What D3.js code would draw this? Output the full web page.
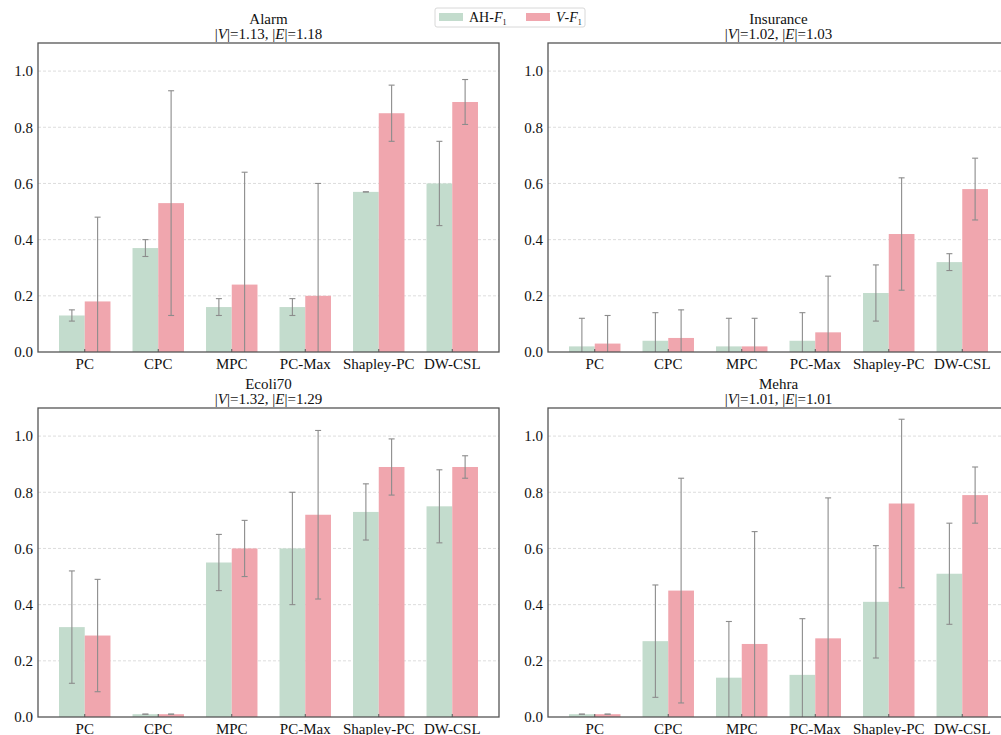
<!DOCTYPE html>
<html>
<head>
<meta charset="utf-8">
<script src="https://cdn.jsdelivr.net/npm/d3@7"></script>
<style>
  html, body { margin: 0; padding: 0; background: #fff; }
  svg, svg text { font-family: "Liberation Serif", "Times New Roman", serif !important; }
  svg { display: block; }
</style>
</head>
<body>
<svg id="chart" width="1001" height="735"></svg>
<script>
// Methods compared on every dataset
const methods = ["PC", "CPC", "MPC", "PC-Max", "Shapley-PC", "DW-CSL"];
const seriesNames = ["AH", "V"];

// Dataset names and graph-size ratios shown in each title
const datasets = ["Alarm", "Insurance", "Ecoli70", "Mehra"];
const ratioV = ["1.13", "1.02", "1.32", "1.01"];
const ratioE = ["1.18", "1.03", "1.29", "1.01"];

// AH-F1 means and error half-widths per dataset
const ahAlarm     = [0.13, 0.37, 0.16, 0.16, 0.57, 0.60];
const ahAlarmErr  = [0.02, 0.03, 0.03, 0.03, 0.00, 0.15];
const ahIns       = [0.02, 0.04, 0.02, 0.04, 0.21, 0.32];
const ahInsErr    = [0.10, 0.10, 0.10, 0.10, 0.10, 0.03];
const ahEcoli     = [0.32, 0.01, 0.55, 0.60, 0.73, 0.75];
const ahEcoliErr  = [0.20, 0.00, 0.10, 0.20, 0.10, 0.13];
const ahMehra     = [0.01, 0.27, 0.14, 0.15, 0.41, 0.51];
const ahMehraErr  = [0.00, 0.20, 0.20, 0.20, 0.20, 0.18];

// V-F1 means and error half-widths per dataset
const vAlarm      = [0.18, 0.53, 0.24, 0.20, 0.85, 0.89];
const vAlarmErr   = [0.30, 0.40, 0.40, 0.40, 0.10, 0.08];
const vIns        = [0.03, 0.05, 0.02, 0.07, 0.42, 0.58];
const vInsErr     = [0.10, 0.10, 0.10, 0.20, 0.20, 0.11];
const vEcoli      = [0.29, 0.01, 0.60, 0.72, 0.89, 0.89];
const vEcoliErr   = [0.20, 0.00, 0.10, 0.30, 0.10, 0.04];
const vMehra      = [0.01, 0.45, 0.26, 0.28, 0.76, 0.79];
const vMehraErr   = [0.00, 0.40, 0.40, 0.50, 0.30, 0.10];

const yTicks = [0.0, 0.2, 0.4, 0.6, 0.8, 1.0];

const panels = [
  { name: datasets[0], rv: ratioV[0], re: ratioE[0], ah: ahAlarm, ahE: ahAlarmErr, v: vAlarm, vE: vAlarmErr },
  { name: datasets[1], rv: ratioV[1], re: ratioE[1], ah: ahIns,   ahE: ahInsErr,   v: vIns,   vE: vInsErr },
  { name: datasets[2], rv: ratioV[2], re: ratioE[2], ah: ahEcoli, ahE: ahEcoliErr, v: vEcoli, vE: vEcoliErr },
  { name: datasets[3], rv: ratioV[3], re: ratioE[3], ah: ahMehra, ahE: ahMehraErr, v: vMehra, vE: vMehraErr }
];

const colors = { AH: "#c3dccd", V: "#f0a6ae" };
const errColor = "#8c8c8c";
const frameColor = "#555555";
const serif = "'Liberation Serif', 'Times New Roman', serif";

const svg = d3.select("#chart");

// Layout of the 2x2 grid of axes
const axW = 461, axH = 309;
const lefts = [38, 548];
const tops = [43, 408];

const y = d3.scaleLinear().domain([0, 1.1]).range([axH, 0]);
const x = d3.scaleBand().domain(methods).range([0, axW]).paddingInner(0.3).paddingOuter(0.286);
const xs = d3.scaleBand().domain(seriesNames).range([0, x.bandwidth()]);

panels.forEach((p, i) => {
  const ox = lefts[i % 2], oy = tops[Math.floor(i / 2)];
  const g = svg.append("g").attr("transform", `translate(${ox},${oy})`);
  const clipId = "clip" + i;
  g.append("clipPath").attr("id", clipId)
    .append("rect").attr("x", 0).attr("y", 0).attr("width", axW).attr("height", axH);

  // dashed horizontal grid
  g.append("g").selectAll("line").data(yTicks.filter(t => t > 0)).join("line")
    .attr("x1", 0).attr("x2", axW)
    .attr("y1", d => y(d)).attr("y2", d => y(d))
    .attr("stroke", "#d4d4d4").attr("stroke-width", 0.8).attr("stroke-dasharray", "3,2");

  const rows = methods.map((m, j) => ({ m, AH: p.ah[j], AHe: p.ahE[j], V: p.v[j], Ve: p.vE[j] }));
  const plot = g.append("g").attr("clip-path", `url(#${clipId})`);

  seriesNames.forEach(s => {
    plot.append("g").selectAll("rect").data(rows).join("rect")
      .attr("x", d => x(d.m) + xs(s))
      .attr("width", xs.bandwidth())
      .attr("y", d => y(d[s]))
      .attr("height", d => y(0) - y(d[s]))
      .attr("fill", colors[s]);
  });

  seriesNames.forEach(s => {
    const eg = plot.append("g").attr("stroke", errColor).attr("stroke-width", 1.1).attr("fill", "none");
    rows.forEach(d => {
      const cx = x(d.m) + xs(s) + xs.bandwidth() / 2;
      const lo = d[s] - d[s + "e"], hi = d[s] + d[s + "e"];
      eg.append("line").attr("x1", cx).attr("x2", cx).attr("y1", y(lo)).attr("y2", y(hi));
      [lo, hi].forEach(v => {
        eg.append("line").attr("x1", cx - 3).attr("x2", cx + 3).attr("y1", y(v)).attr("y2", y(v));
      });
    });
  });

  // axes
  const xAxis = g.append("g").attr("transform", `translate(0,${axH})`)
    .call(d3.axisBottom(x).tickSizeInner(-3).tickSizeOuter(0).tickPadding(6));
  xAxis.attr("font-family", serif);
  xAxis.select(".domain").remove();
  xAxis.selectAll("line").attr("stroke", frameColor);
  xAxis.selectAll("text").attr("font-size", 15).attr("fill", "#111");

  const yAxis = g.append("g")
    .call(d3.axisLeft(y).tickValues(yTicks).tickFormat(d3.format(".1f")).tickSize(0).tickPadding(5));
  yAxis.attr("font-family", serif);
  yAxis.select(".domain").remove();
  yAxis.selectAll("text").attr("font-size", 15).attr("fill", "#111");

  g.append("rect").attr("x", 0).attr("y", 0).attr("width", axW).attr("height", axH)
    .attr("fill", "none").attr("stroke", frameColor).attr("stroke-width", 1.3);

  // two-line title
  const t = g.append("text").attr("x", axW / 2).attr("text-anchor", "middle")
    .attr("font-size", 15).attr("fill", "#111");
  t.append("tspan").attr("x", axW / 2).attr("y", -19).text(p.name);
  const l2 = t.append("tspan").attr("x", axW / 2).attr("y", -4);
  l2.append("tspan").text("|");
  l2.append("tspan").attr("font-style", "italic").text("V");
  l2.append("tspan").text(`|=${p.rv}, |`);
  l2.append("tspan").attr("font-style", "italic").text("E");
  l2.append("tspan").text(`|=${p.re}`);
});

// legend
const lg = svg.append("g").attr("transform", "translate(435,8)");
lg.append("rect").attr("width", 150).attr("height", 19).attr("rx", 2)
  .attr("fill", "#fff").attr("stroke", "#d8d8d8").attr("stroke-width", 1);
const legendItems = [
  { key: "AH", x: 4, pre: "AH-" },
  { key: "V", x: 91, pre: null }
];
legendItems.forEach(it => {
  lg.append("rect").attr("x", it.x).attr("y", 5).attr("width", 24).attr("height", 8).attr("fill", colors[it.key]);
  const tx = lg.append("text").attr("x", it.x + 30).attr("y", 14).attr("font-size", 14).attr("fill", "#111");
  if (it.pre) {
    tx.append("tspan").text(it.pre);
  } else {
    tx.append("tspan").attr("font-style", "italic").text("V");
    tx.append("tspan").text("-");
  }
  tx.append("tspan").attr("font-style", "italic").text("F");
  tx.append("tspan").attr("font-size", 8).attr("dy", 3).text("1");
});
</script>
</body>
</html>
